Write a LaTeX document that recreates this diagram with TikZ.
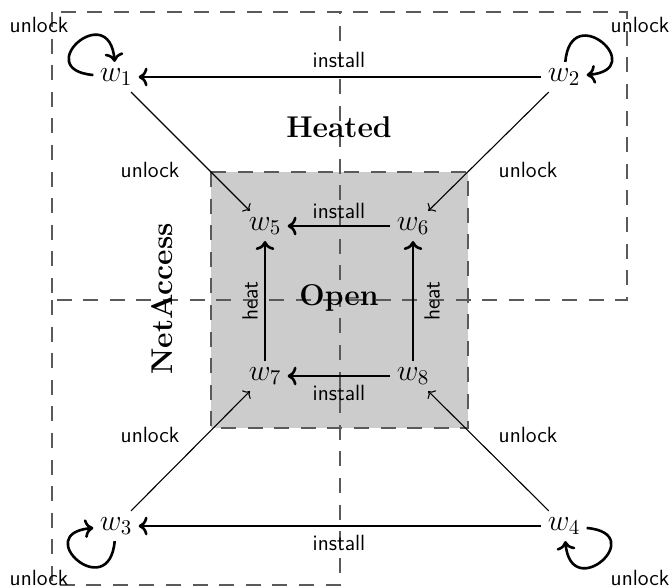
\documentclass[tikz,border=0pt]{standalone}
\usepackage{fix-cm}
\usetikzlibrary{arrows.meta}
\definecolor{dashgray}{RGB}{90,90,90}
\definecolor{fillgray}{RGB}{204,204,204}
\begin{document}
\begin{tikzpicture}[x=0.5pt,y=0.5pt,
  state/.style={inner sep=3pt, font=\fontsize{15}{18}\selectfont},
  lbl/.style={font=\sffamily\fontsize{11}{13}\selectfont, inner sep=0pt},
  title/.style={font=\fontsize{15}{18}\selectfont\bfseries, inner sep=0pt},
  region/.style={draw=dashgray, line width=0.8pt, dash pattern=on 7.5pt off 5.8pt},
  trans/.style={->, line width=1.3pt},
  diag/.style={->, line width=0.55pt},
  loopedge/.style={->, line width=1.3pt, looseness=1, min distance=32pt}]
\useasboundingbox (0,0) rectangle (670,588);
% regions
\fill[fillgray] (211,416) rectangle (468,160);
\draw[region] (211,416) rectangle (468,160);
\draw[region] (52,576) rectangle (627,288);
\draw[region] (52,288) -- (52,3) -- (340,3) -- (340,576);
% titles
\node[title] (heated) at (339,461) {Heated};
\node[title] (open) at (339,290) {Open};
\node[title, rotate=90] (net) at (162,289) {NetAccess};
% states
\node[state] (w1) at (116,511) {$w_1$};
\node[state] (w2) at (564,511) {$w_2$};
\node[state] (w3) at (116,62) {$w_3$};
\node[state] (w4) at (564,62) {$w_4$};
\node[state] (w5) at (265,362) {$w_5$};
\node[state] (w6) at (413,362) {$w_6$};
\node[state] (w7) at (265,212) {$w_7$};
\node[state] (w8) at (413,212) {$w_8$};
% install
\draw[trans] (w2) -- (w1);
\draw[trans] (w6) -- (w5);
\draw[trans] (w8) -- (w7);
\draw[trans] (w4) -- (w3);
% heat
\draw[trans] (w7) -- (w5);
\draw[trans] (w8) -- (w6);
% unlock
\draw[diag] (w1) -- (w5);
\draw[diag] (w2) -- (w6);
\draw[diag] (w3) -- (w7);
\draw[diag] (w4) -- (w8);
\draw[loopedge] (w1) to[out=175,in=95] (w1);
\draw[loopedge] (w2) to[out=85,in=5] (w2);
\draw[loopedge] (w4) to[out=-5,in=-85] (w4);
\draw[loopedge] (w3) to[out=-95,in=-175] (w3);
% labels
\node[lbl] (l1) at (39,563) {unlock};
\node[lbl] (l2) at (640,563) {unlock};
\node[lbl] (l3) at (39,10) {unlock};
\node[lbl] (l4) at (640,10) {unlock};
\node[lbl] (l5) at (150,418) {unlock};
\node[lbl] (l6) at (528,418) {unlock};
\node[lbl] (l7) at (150,153) {unlock};
\node[lbl] (l8) at (528,153) {unlock};
\node[lbl] (i1) at (339,528) {install};
\node[lbl] (i2) at (339,377) {install};
\node[lbl] (i3) at (339,195) {install};
\node[lbl] (i4) at (339,45) {install};
\node[lbl, rotate=90] (h1) at (250,287) {heat};
\node[lbl, rotate=90] (h2) at (432,287) {heat};
\end{tikzpicture}
\end{document}
